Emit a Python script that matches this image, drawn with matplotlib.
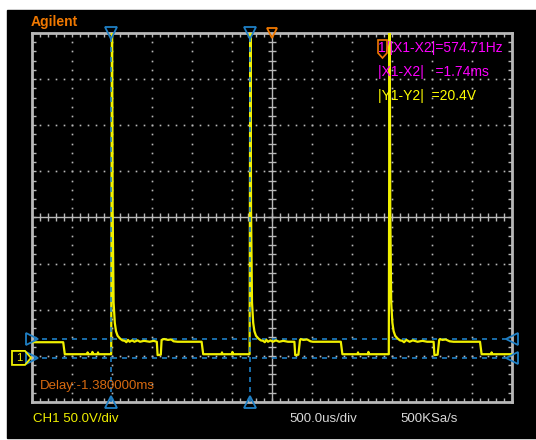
import matplotlib
matplotlib.use("Agg")
import matplotlib.pyplot as plt
from matplotlib.patches import Rectangle, Polygon

# scope settings
t_per_div = 0.5          # ms
v_per_div = 50.0         # V
t_left = -1.62           # ms, screen left edge
v_bottom = -47.8         # V, screen bottom edge

# trace (ms, V)
trace_t = [-1.62, -1.23, -1.21, -0.93, -0.925, -0.92, -0.87, -0.865, -0.86, -0.80, -0.795, -0.79, -0.63,
           -0.62, -0.612, -0.60, -0.585, -0.57, -0.55, -0.52, -0.49, -0.46, -0.44, -0.42, -0.40, -0.37,
           -0.34, -0.30, -0.27, -0.22, -0.15, -0.10, -0.06, -0.05, -0.01, 0.0, 0.03, 0.08, 0.12, 0.15,
           0.20, 0.50, 0.52, 0.75, 0.755, 0.76, 0.88, 0.885, 0.89, 1.10,
           1.11, 1.118, 1.13, 1.145, 1.16, 1.18, 1.21, 1.24, 1.27, 1.29, 1.31, 1.33, 1.36, 1.39,
           1.43, 1.47, 1.52, 1.58, 1.66, 1.67, 1.71, 1.73, 1.74, 1.77, 1.82, 1.86, 1.89, 1.93,
           2.24, 2.26, 2.45, 2.455, 2.46, 2.58, 2.585, 2.59, 2.84,
           2.85, 2.858, 2.87, 2.885, 2.90, 2.92, 2.95, 2.98, 3.01, 3.03, 3.06, 3.10, 3.14, 3.20,
           3.26, 3.32, 3.40, 3.41, 3.45, 3.47, 3.48, 3.51, 3.55, 3.60, 3.65, 3.98, 4.00, 4.12,
           4.125, 4.13, 4.38]
trace_v = [17.0, 17.0, 4.0, 4.0, 6.0, 4.0, 4.0, 6.5, 4.0, 4.0, 6.0, 4.0, 4.0,
           420.0, 160.0, 60.0, 38.0, 29.0, 24.0, 21.0, 19.0, 18.5, 17.0, 19.5, 17.5, 19.0,
           17.5, 19.0, 17.5, 18.5, 17.5, 18.5, 17.5, 3.0, 3.5, 19.5, 20.5, 19.5, 20.0, 18.0,
           17.5, 17.5, 4.0, 4.0, 6.0, 4.0, 4.0, 6.5, 4.0, 4.0,
           420.0, 160.0, 60.0, 38.0, 29.0, 24.0, 21.0, 19.0, 18.5, 17.0, 19.5, 17.5, 19.0, 17.5,
           19.0, 17.5, 18.5, 17.5, 17.5, 3.0, 3.5, 19.5, 20.5, 19.5, 20.0, 18.0, 17.5, 17.5,
           17.5, 4.0, 4.0, 6.0, 4.0, 4.0, 6.5, 4.0, 4.0,
           420.0, 160.0, 60.0, 38.0, 29.0, 24.0, 21.0, 19.0, 18.5, 17.0, 19.5, 17.5, 19.0, 17.5,
           18.5, 17.5, 17.5, 3.0, 3.5, 19.5, 20.5, 19.5, 20.0, 18.0, 17.5, 17.5, 4.0, 4.0,
           6.0, 4.0, 4.0]

# cursors
cursor_x = [-0.63, 1.11]     # ms
cursor_y = [20.4, 0.0]       # V
trig_t = 1.38                # ms (delay)

meas_lines = ["1/|X1-X2|=574.71Hz", "|X1-X2|   =1.74ms", "|Y1-Y2|  =20.4V"]
meas_colors = ["#ff00ff", "#ff00ff", "#ffff00"]

W, H = 536, 440
YEL = "#f0f000"
BLUE = "#1f7fc4"
ORANGE = "#f07800"
GRID = "#b8b8b8"
FONT = ["Liberation Sans", "DejaVu Sans"]


def fx(x):
    return x / W


def fy(y):
    return 1 - y / H


fig = plt.figure(figsize=(W / 100, H / 100), dpi=100, facecolor="white")
fig.patches.append(Rectangle((fx(7), fy(438)), fx(536) - fx(7), fy(10) - fy(438),
                             transform=fig.transFigure, color="black", zorder=-5))

ax = fig.add_axes([fx(32), fy(402), fx(512) - fx(32), fy(33) - fy(402)])
ax.set_facecolor("black")
t_right = t_left + 12 * t_per_div
v_top = v_bottom + 8 * v_per_div
ax.set_xlim(t_left, t_right)
ax.set_ylim(v_bottom, v_top)
for s in ax.spines.values():
    s.set_color(GRID)
    s.set_linewidth(2)
ax.tick_params(which="both", direction="in", length=3, width=1, color=GRID,
               top=True, right=True, labelbottom=False, labelleft=False)
ax.set_xticks([t_left + i * t_per_div for i in range(13)])
ax.set_yticks([v_bottom + i * v_per_div for i in range(9)])
ax.set_xticks([t_left + i * t_per_div / 5 for i in range(61)], minor=True)
ax.set_yticks([v_bottom + i * v_per_div / 5 for i in range(41)], minor=True)

# dotted graticule
for i in range(1, 12):
    x = t_left + i * t_per_div
    if i == 6:
        ax.axvline(x, color=GRID, lw=1)
        ax.plot([x] * 39, [v_bottom + j * v_per_div / 5 for j in range(1, 40)],
                ls="none", marker="_", ms=6, color=GRID, mew=1)
    else:
        ax.plot([x] * 39, [v_bottom + j * v_per_div / 5 for j in range(1, 40)],
                ls="none", marker="s", ms=1.2, color=GRID, mew=0)
for i in range(1, 8):
    y = v_bottom + i * v_per_div
    if i == 4:
        ax.axhline(y, color=GRID, lw=1)
        ax.plot([t_left + j * t_per_div / 5 for j in range(1, 60)], [y] * 59,
                ls="none", marker="|", ms=6, color=GRID, mew=1)
    else:
        ax.plot([t_left + j * t_per_div / 5 for j in range(1, 60)], [y] * 59,
                ls="none", marker="s", ms=1.2, color=GRID, mew=0)

# cursors
for cx in cursor_x:
    ax.axvline(cx, color=BLUE, lw=1.2, ls=(0, (3, 3)), zorder=4)
for cy in cursor_y:
    ax.axhline(cy, color=BLUE, lw=1.2, ls=(0, (3, 3)), zorder=2)

# trace
ax.plot(trace_t, trace_v, color=YEL, lw=1.6, zorder=3)

# cursor / trigger markers
for cx in cursor_x:
    ax.plot(cx, v_top, marker="v", ms=8, mfc="none", mec=BLUE, mew=1.3, clip_on=False, zorder=6)
    ax.plot(cx, v_bottom, marker="^", ms=8, mfc="none", mec=BLUE, mew=1.3, clip_on=False, zorder=6)
for cy in cursor_y:
    ax.plot(t_left, cy, marker=">", ms=8, mfc="none", mec=BLUE, mew=1.3, clip_on=False, zorder=6)
    ax.plot(t_right, cy, marker="<", ms=8, mfc="none", mec=BLUE, mew=1.3, clip_on=False, zorder=6)
ax.plot(trig_t, v_top, marker="v", ms=7, mfc="none", mec=ORANGE, mew=1.3, clip_on=False, zorder=6)

# channel 1 ground marker
gy = H - ax.transData.transform((t_left, 0.0))[1]
fig.patches.append(Polygon([(fx(12), fy(gy - 7)), (fx(25), fy(gy - 7)), (fx(31), fy(gy)),
                            (fx(25), fy(gy + 7)), (fx(12), fy(gy + 7))], closed=True,
                           fill=False, ec=YEL, lw=1.3, transform=fig.transFigure, zorder=5))
fig.text(fx(19), fy(gy), "1", color=YEL, fontsize=8, ha="center", va="center", family=FONT)

# trigger-level "T" marker near readout
fig.patches.append(Polygon([(fx(378), fy(40)), (fx(387), fy(40)), (fx(387), fy(53)),
                            (fx(382.5), fy(58)), (fx(378), fy(53))], closed=True,
                           fill=False, ec=ORANGE, lw=1.2, transform=fig.transFigure, zorder=5))

# readouts
fig.text(fx(31), fy(22), "Agilent", color=ORANGE, fontsize=10, fontweight="bold",
         ha="left", va="center", family=FONT)
for k, (txt, col) in enumerate(zip(meas_lines, meas_colors)):
    fig.text(fx(378), fy(48 + 24 * k), txt, color=col, fontsize=10, ha="left", va="center",
             family=FONT)
fig.text(fx(40), fy(386), "Delay:-1.380000ms", color="#d86a10", fontsize=9.5, ha="left",
         va="center", family=FONT)
fig.text(fx(33), fy(419), "CH1 50.0V/div", color=YEL, fontsize=9.5, ha="left", va="center",
         family=FONT)
fig.text(fx(289), fy(419), "500.0us/div", color="#d8d8d8", fontsize=9.5, ha="left", va="center",
         family=FONT)
fig.text(fx(400), fy(419), "500KSa/s", color="#d8d8d8", fontsize=9.5, ha="left", va="center",
         family=FONT)

fig.savefig("out.png", dpi=100, facecolor="white")
